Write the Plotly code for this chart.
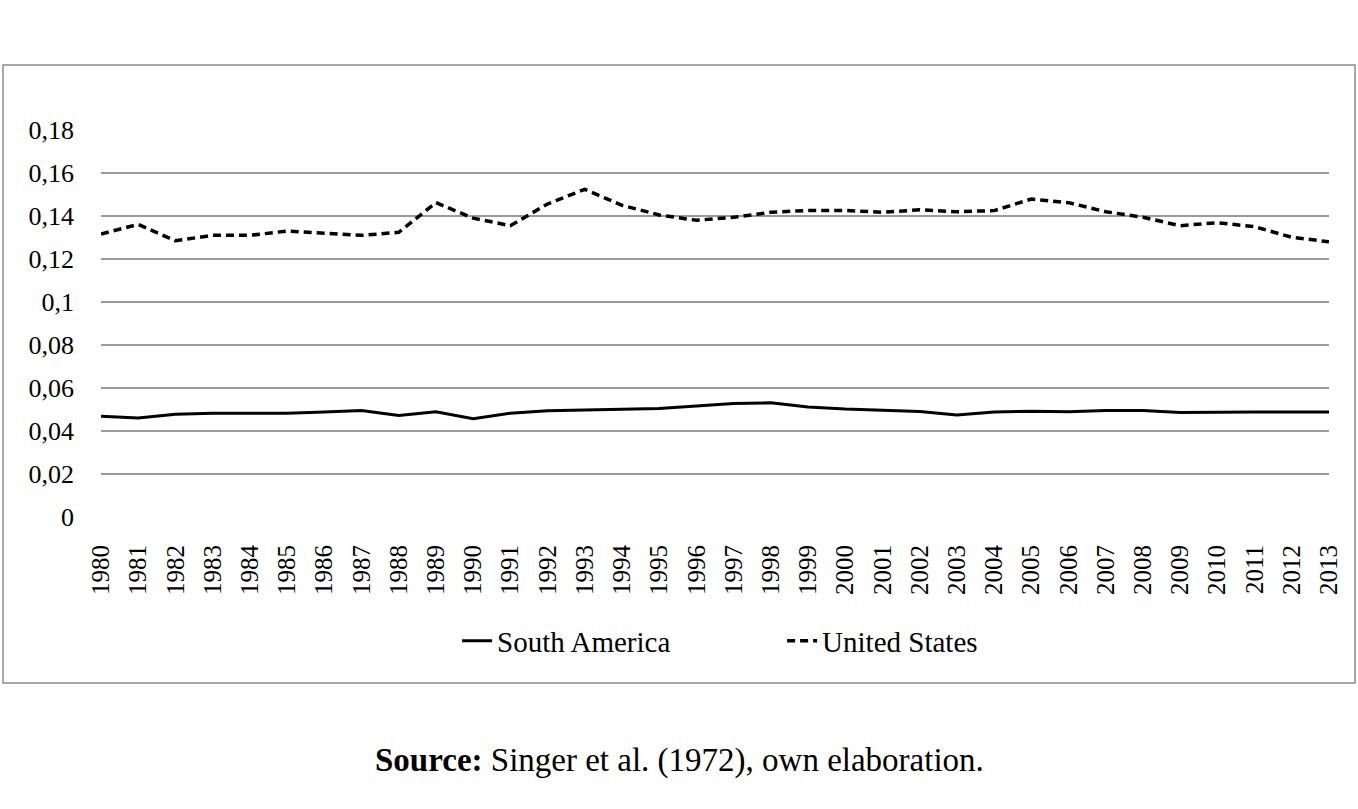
import plotly.graph_objects as go

years = [str(y) for y in range(1980, 2014)]

south_america = [0.0469, 0.0460, 0.0478, 0.0482, 0.0482, 0.0483, 0.0488, 0.0495, 0.0472, 0.0489,
                 0.0457, 0.0483, 0.0494, 0.0498, 0.0503, 0.0505, 0.0516, 0.0528, 0.0531, 0.0512,
                 0.0502, 0.0497, 0.0491, 0.0475, 0.0488, 0.0492, 0.0489, 0.0495, 0.0495, 0.0486,
                 0.0488, 0.0488, 0.0488, 0.0488]

united_states = [0.1316, 0.1361, 0.1285, 0.1310, 0.1310, 0.1330, 0.1320, 0.1310, 0.1324, 0.1462,
                 0.1390, 0.1355, 0.1456, 0.1524, 0.1450, 0.1405, 0.1380, 0.1394, 0.1417, 0.1426,
                 0.1426, 0.1417, 0.1429, 0.1420, 0.1425, 0.1479, 0.1462, 0.1420, 0.1394, 0.1355,
                 0.1369, 0.1350, 0.1301, 0.1280]

y_tick_vals = [0, 0.02, 0.04, 0.06, 0.08, 0.10, 0.12, 0.14, 0.16, 0.18]
y_tick_text = ["0", "0,02", "0,04", "0,06", "0,08", "0,1", "0,12", "0,14", "0,16", "0,18"]

FONT = "Liberation Serif"

fig = go.Figure()
fig.add_trace(go.Scatter(x=years, y=south_america, name="South America", mode="lines",
                         line=dict(color="#000000", width=3)))
fig.add_trace(go.Scatter(x=years, y=united_states, name="United States", mode="lines",
                         line=dict(color="#000000", width=3.5, dash="8px,5px")))

fig.update_layout(
    width=1358, height=809,
    margin=dict(l=101, r=29, t=130, b=292, autoexpand=False),
    paper_bgcolor="white", plot_bgcolor="white",
    font=dict(family=FONT, size=25, color="#000000"),
    showlegend=True,
    legend=dict(orientation="h", x=0.29, xanchor="left", y=-0.32, yanchor="middle",
                font=dict(family=FONT, size=29), entrywidth=280, entrywidthmode="pixels",
                bgcolor="rgba(0,0,0,0)"),
    xaxis=dict(type="category", tickangle=-90, showgrid=False, showline=False,
               ticks="", tickfont=dict(family=FONT, size=25), ticklabelstandoff=22),
    yaxis=dict(range=[0, 0.18], tickvals=y_tick_vals, ticktext=y_tick_text,
               showgrid=True, gridcolor="#9a9a9a", gridwidth=1.5, zeroline=False,
               showline=False, ticks="", tickfont=dict(family=FONT, size=26),
               ticklabelstandoff=26),
    shapes=[dict(type="rect", xref="paper", yref="paper",
                 x0=-0.0798, x1=1.0212, y0=-0.429, y1=1.168,
                 line=dict(color="#8c8c8c", width=1.5), fillcolor="rgba(0,0,0,0)")],
    annotations=[dict(text="<b>Source:</b> Singer et al. (1972), own elaboration.",
                      xref="paper", yref="paper", x=0.471, y=-0.628,
                      xanchor="center", yanchor="middle", showarrow=False,
                      font=dict(family=FONT, size=33, color="#000000"))],
)

fig.write_html("out.html", config={"displayModeBar": False},
               post_script="document.body.style.margin='0';")
